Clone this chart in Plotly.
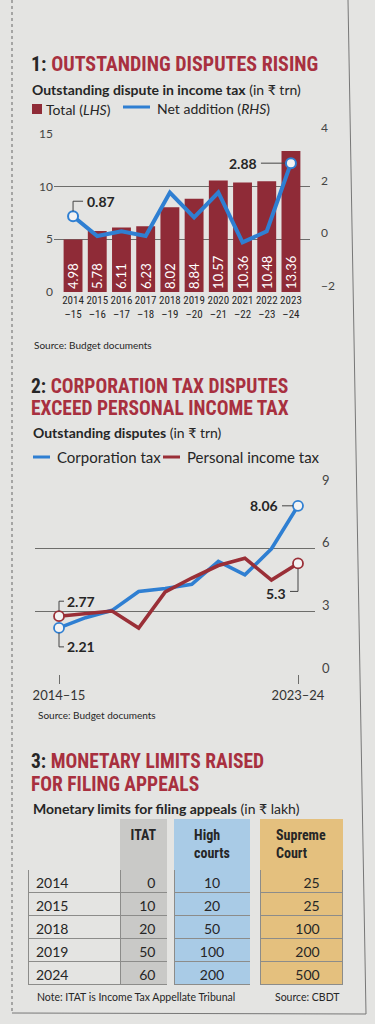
import plotly.graph_objects as go

# ---------------- data ----------------
years1 = ["2014–15", "2015–16", "2016–17", "2017–18", "2018–19",
          "2019–20", "2020–21", "2021–22", "2022–23", "2023–24"]
year1_ticktext = ["2014<br>–15", "2015<br>–16", "2016<br>–17", "2017<br>–18", "2018<br>–19",
                  "2019<br>–20", "2020<br>–21", "2021<br>–22", "2022<br>–23", "2023<br>–24"]
total_disputes = [4.98, 5.78, 6.11, 6.23, 8.02, 8.84, 10.57, 10.36, 10.48, 13.36]
net_addition = [0.87, 0.12, 0.30, 0.12, 1.77, 0.83, 1.77, -0.12, 0.30, 2.88]
lhs_ticks = [0, 5, 10, 15]
rhs_ticks = [-2, 0, 2, 4]

years2 = years1
corporation_tax = [2.21, 2.70, 3.05, 3.95, 4.10, 4.30, 5.40, 4.75, 6.00, 8.06]
personal_income_tax = [2.77, 2.88, 3.02, 2.20, 3.93, 4.60, 5.20, 5.55, 4.50, 5.30]
ticks2 = [0, 3, 6, 9]

limit_years = ["2014", "2015", "2018", "2019", "2024"]
itat_limit = [0, 10, 20, 50, 60]
high_court_limit = [10, 20, 50, 100, 200]
supreme_court_limit = [25, 25, 100, 200, 500]

# ---------------- style ----------------
W, H = 375, 1024
BG = "#e4e4e2"
BAR = "#8f2b37"
TRED = "#a8303f"
BLUE = "#2f7fd2"
LRED = "#9a2f37"
INK = "#262626"
GRID = "#6d6d6b"
GRAYC, BLUEC, GOLDC = "#c9c9c7", "#a9cbe6", "#e4c07e"
HEAD = "Roboto Condensed, Liberation Sans Narrow, Arial Narrow, DejaVu Sans Condensed, Lato, sans-serif"
BODY = "Lato, Open Sans, sans-serif"


def px(x):
    return x / W


def py(y):
    return 1 - y / H


fig = go.Figure()

# ---- panel 1 ----
fig.add_trace(go.Bar(
    x=years1, y=total_disputes, xaxis="x", yaxis="y",
    marker=dict(color=BAR, line=dict(width=0)),
    text=[f"{v:.2f}" for v in total_disputes],
    textposition="inside", insidetextanchor="start", textangle=-90,
    textfont=dict(color="white", size=13, family=BODY),
    constraintext="none", cliponaxis=False,
))
fig.add_trace(go.Scatter(
    x=years1, y=net_addition, xaxis="x", yaxis="y2", mode="lines",
    line=dict(color=BLUE, width=4, shape="linear"),
))
fig.add_trace(go.Scatter(
    x=[years1[0], years1[-1]], y=[net_addition[0], net_addition[-1]],
    xaxis="x", yaxis="y2", mode="markers", cliponaxis=False,
    marker=dict(size=10, color="#f3f3f3", line=dict(color=BLUE, width=2)),
))

# ---- panel 2 ----
fig.add_trace(go.Scatter(
    x=years2, y=corporation_tax, xaxis="x2", yaxis="y3", mode="lines",
    line=dict(color=BLUE, width=3.6),
))
fig.add_trace(go.Scatter(
    x=years2, y=personal_income_tax, xaxis="x2", yaxis="y3", mode="lines",
    line=dict(color=LRED, width=3.6),
))
fig.add_trace(go.Scatter(
    x=[years2[0], years2[-1]], y=[corporation_tax[0], corporation_tax[-1]],
    xaxis="x2", yaxis="y3", mode="markers", cliponaxis=False,
    marker=dict(size=10, color="#f3f3f3", line=dict(color=BLUE, width=1.8)),
))
fig.add_trace(go.Scatter(
    x=[years2[0], years2[-1]], y=[personal_income_tax[0], personal_income_tax[-1]],
    xaxis="x2", yaxis="y3", mode="markers", cliponaxis=False,
    marker=dict(size=10, color="#f3f3f3", line=dict(color=LRED, width=1.8)),
))

# ---- panel 3 table ----
n = len(limit_years)
blank = [""] * n
fills = [BG, GRAYC, BG, BLUEC, BG, GOLDC]
fig.add_trace(go.Table(
    domain=dict(x=[px(28), px(342)], y=[py(990), py(819)]),
    columnwidth=[92, 47, 7, 76, 10, 82],
    header=dict(
        values=["", "<b>ITAT</b>", "", "<b>High<br>courts</b>", "", "<b>Supreme<br>Court</b>"],
        fill_color=fills,
        line=dict(color=fills, width=1),
        align="center", height=45,
        font=dict(family=HEAD, size=14, color=INK),
    ),
    cells=dict(
        values=[limit_years, itat_limit, blank, high_court_limit, blank, supreme_court_limit],
        fill_color=fills,
        line=dict(color=["#8c8c8a", "#8c8c8a", BG, "#8c8c8a", BG, "#8c8c8a"], width=1),
        align=["left", "right", "center", "center", "center", "right"],
        suffix=["", "\u00a0", "", "", "", "\u00a0\u00a0\u00a0\u00a0"],
        height=23,
        font=dict(family=BODY, size=14, color=INK),
    ),
))

# ---------------- layout ----------------
fig.update_layout(
    width=W, height=H, margin=dict(l=0, r=0, t=0, b=0, autoexpand=False),
    paper_bgcolor=BG, plot_bgcolor="rgba(0,0,0,0)", showlegend=False,
    bargap=0.22,
    xaxis=dict(domain=[px(54), px(310)], anchor="y", type="category", automargin=False,
               tickvals=years1, ticktext=year1_ticktext, tickangle=0, showgrid=False,
               ticks="", showline=False, zeroline=False,
               tickfont=dict(family=HEAD, size=11, color=INK)),
    yaxis=dict(domain=[py(292), py(133.5)], anchor="x", range=[0, 15.01], automargin=False,
               tickvals=lhs_ticks, showgrid=True, gridcolor=GRID, gridwidth=0.8,
               zeroline=False, showline=False, ticks="",
               tickfont=dict(family=BODY, size=12, color="#444")),
    yaxis2=dict(overlaying="y", anchor="x", side="right", range=[-2, 4.004], automargin=False,
                tickvals=rhs_ticks, showgrid=False, zeroline=False, showline=False,
                ticks="", ticklabelstandoff=10, ticklabelshift=-6,
                tickfont=dict(family=BODY, size=12, color="#444")),
    xaxis2=dict(domain=[px(35), px(315)], anchor="y3", type="category", automargin=False,
                range=[-0.904, 9.64], tickvals=[years2[0], years2[-1]], tickangle=0,
                ticks="outside", ticklen=9, tickcolor=GRID, tickwidth=1,
                showgrid=False, showline=False, zeroline=False,
                tickfont=dict(family=BODY, size=13, color="#333")),
    yaxis3=dict(domain=[py(674), py(486)], anchor="x2", side="right", range=[0, 9.01],
                automargin=False,
                tickvals=ticks2, showgrid=True, gridcolor=GRID, gridwidth=0.8,
                zeroline=False, showline=False, ticks="",
                ticklabelstandoff=6, ticklabelshift=-6,
                tickfont=dict(family=BODY, size=13, color="#444")),
)

ann = []
shapes = []


def text(x, y, s, size, family=BODY, color=INK, anchor="left"):
    ann.append(dict(x=px(x), y=py(y), xref="paper", yref="paper", text=s,
                    showarrow=False, xanchor=anchor, yanchor="middle",
                    font=dict(family=family, size=size, color=color)))


def red(s):
    return f"<span style='color:{TRED}'>{s}</span>"


# panel 1 texts
text(29, 64, "<b>1: " + red("OUTSTANDING DISPUTES RISING") + "</b>", 20, HEAD)
text(30, 89, "<b>Outstanding dispute in income tax</b> (in ₹ trn)", 14, BODY)
shapes.append(dict(type="rect", xref="paper", yref="paper", x0=px(32), x1=px(42),
                   y0=py(114), y1=py(104), fillcolor=BAR, line=dict(width=0)))
text(44, 109, "Total (<i>LHS</i>)", 14)
shapes.append(dict(type="line", xref="paper", yref="paper", x0=px(123), x1=px(150),
                   y0=py(107), y1=py(107), line=dict(color=BLUE, width=3)))
text(155, 108, "Net addition (<i>RHS</i>)", 14)
text(32, 345, "Source: Budget documents", 10)

# panel 2 texts
text(29, 386, "<b>2: " + red("CORPORATION TAX DISPUTES") + "</b>", 19.5, HEAD)
text(29, 408, "<b>" + red("EXCEED PERSONAL INCOME TAX") + "</b>", 19.5, HEAD)
text(31, 432, "<b>Outstanding disputes</b> (in ₹ trn)", 14, BODY)
shapes.append(dict(type="line", xref="paper", yref="paper", x0=px(33), x1=px(50),
                   y0=py(457), y1=py(457), line=dict(color=BLUE, width=3)))
text(55, 457, "Corporation tax", 15)
shapes.append(dict(type="line", xref="paper", yref="paper", x0=px(163), x1=px(180),
                   y0=py(457), y1=py(457), line=dict(color=LRED, width=3)))
text(185, 457, "Personal income tax", 15)
text(36, 715, "Source: Budget documents", 10)

# panel 3 texts
text(29, 761, "<b>3: " + red("MONETARY LIMITS RAISED") + "</b>", 19.5, HEAD)
text(29, 784, "<b>" + red("FOR FILING APPEALS") + "</b>", 19.5, HEAD)
text(31, 808, "<b>Monetary limits for filing appeals</b> (in ₹ lakh)", 14, BODY)
text(35, 997, "Note: ITAT is Income Tax Appellate Tribunal", 10.5)
text(342, 997, "Source: CBDT", 10.5, anchor="right")


# data labels with leader lines
def callout(xref, yref, xv, yv, s, xshift, yshift, xanchor, path):
    ann.append(dict(x=xv, y=yv, xref=xref, yref=yref, text=f"<b>{s}</b>", showarrow=False,
                    xanchor=xanchor, yanchor="middle", xshift=xshift, yshift=yshift,
                    font=dict(family=BODY, size=14, color=INK)))
    shapes.append(dict(type="path", xref=xref, yref=yref, xsizemode="pixel", ysizemode="pixel",
                       xanchor=xv, yanchor=yv, path=path, line=dict(color="#444", width=1)))


callout("x", "y2", years1[0], net_addition[0], f"{net_addition[0]:.2f}", 12, 15, "left",
        "M 0,5 L 0,15 L 10,15")
callout("x", "y2", years1[-1], net_addition[-1], f"{net_addition[-1]:.2f}", -32, 0, "right",
        "M -30,0 L -6,0")
callout("x2", "y3", years2[0], personal_income_tax[0], f"{personal_income_tax[0]:.2f}", 6, 15, "left",
        "M 0,5 L 0,15 L 5,15")
callout("x2", "y3", years2[0], corporation_tax[0], f"{corporation_tax[0]:.2f}", 6, -19, "left",
        "M 0,-5 L 0,-19 L 5,-19")
callout("x2", "y3", years2[-1], corporation_tax[-1], f"{corporation_tax[-1]:.2f}", -18, 0, "right",
        "M -16,0 L -5,0")
callout("x2", "y3", years2[-1], personal_income_tax[-1], f"{personal_income_tax[-1]:g}", -10, -30, "right",
        "M 0,-5 L 0,-28 L -8,-28")

# page frame (newspaper box)
shapes.append(dict(type="line", xref="paper", yref="paper", x0=px(12), x1=px(12), y0=py(0), y1=py(1012),
                   line=dict(color="#666", width=1, dash="dot")))
shapes.append(dict(type="line", xref="paper", yref="paper", x0=px(348), x1=px(366), y0=py(0), y1=py(1014),
                   line=dict(color="#777", width=1)))
shapes.append(dict(type="line", xref="paper", yref="paper", x0=px(12), x1=px(366), y0=py(1013), y1=py(1014),
                   line=dict(color="#777", width=1)))

fig.update_layout(annotations=ann, shapes=shapes)
fig.write_html("out.html",
               config={"displayModeBar": False},
               post_script="document.body.style.margin='0';document.body.style.padding='0';"
                           "document.body.style.overflow='hidden';")
